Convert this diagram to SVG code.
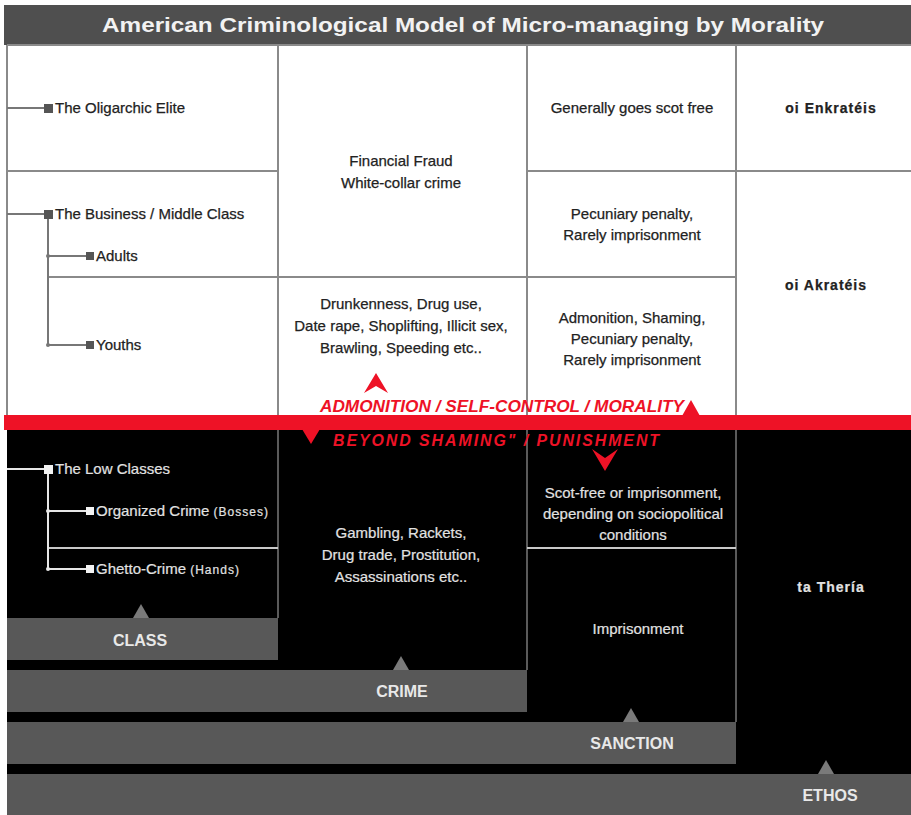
<svg xmlns="http://www.w3.org/2000/svg" width="911" height="815" viewBox="0 0 911 815">
  <defs>
    <style>
      .grid { stroke: #8a8a8a; stroke-width: 2; fill: none; }
      .gridDark { stroke: #5a5a5a; stroke-width: 2; fill: none; }
      .lightLine { stroke: #c8c8c8; stroke-width: 2; fill: none; }
      .treeTop { stroke: #777; stroke-width: 2; fill: none; }
      .treeLow { stroke: #e6e6e6; stroke-width: 2; fill: none; }
      .t { font-family: "Liberation Sans", Arial, sans-serif; font-size: 15px; }
      .dark { fill: #222; stroke: #222; stroke-width: 0.25; }
      .light { fill: #e2e2e2; stroke: #e2e2e2; stroke-width: 0.2; }
      .mid { text-anchor: middle; }
      .greek { font-family: "Liberation Sans", Arial, sans-serif; font-size: 14px; font-weight: bold; letter-spacing: 1px; text-anchor: middle; }
      .bar { fill: #585858; }
      .tri { fill: #7a7a7a; }
      .barLabel { font-family: "Liberation Sans", Arial, sans-serif; font-size: 16px; font-weight: bold; fill: #e8e8e8; text-anchor: middle; }
      .red { fill: #ee1226; }
      .redText { font-family: "Liberation Sans", Arial, sans-serif; font-size: 16px; font-weight: bold; font-style: italic; fill: #ee1226; }
      .small { font-size: 12px; letter-spacing: 1px; }
    </style>
  </defs>

  <rect width="911" height="815" fill="#ffffff"/>

  <!-- title bar -->
  <g id="title">
    <rect x="4" y="5" width="907" height="40" fill="#4f4f4f"/>
    <text x="463" y="32" text-anchor="middle" textLength="722" lengthAdjust="spacingAndGlyphs" font-family="Liberation Sans, Arial, sans-serif" font-size="20" font-weight="bold" fill="#f2f2f2">American Criminological Model of Micro-managing by Morality</text>
  </g>

  <!-- lower (black) field -->
  <rect x="7" y="430" width="904" height="385" fill="#000000"/>

  <!-- table grid -->
  <g id="grid">
    <line class="grid" x1="7" y1="45" x2="911" y2="45"/>
    <line class="grid" x1="7" y1="45" x2="7" y2="415"/>
    <line class="grid" x1="278" y1="45" x2="278" y2="415"/>
    <line class="grid" x1="527" y1="45" x2="527" y2="415"/>
    <line class="grid" x1="736" y1="45" x2="736" y2="415"/>
    <line class="grid" x1="7" y1="171" x2="278" y2="171"/>
    <line class="grid" x1="527" y1="171" x2="911" y2="171"/>
    <line class="grid" x1="48" y1="277" x2="736" y2="277"/>
    <line class="gridDark" x1="278" y1="430" x2="278" y2="618"/>
    <line class="gridDark" x1="527" y1="430" x2="527" y2="670"/>
    <line class="gridDark" x1="736" y1="430" x2="736" y2="722"/>
    <line class="lightLine" x1="48" y1="548" x2="278" y2="548"/>
    <line class="lightLine" x1="527" y1="548" x2="736" y2="548"/>
  </g>

  <!-- class hierarchy, upper part -->
  <g id="tree-upper">
    <path class="treeTop" d="M7 108 H46 M7 214 H46 M48 214 V345 M48 256 H88 M48 345 H88"/>
    <circle cx="48" cy="256" r="2" fill="#777"/>
    <circle cx="48" cy="345" r="2" fill="#777"/>
    <rect x="44" y="104" width="9" height="9" fill="#555"/>
    <rect x="44" y="210" width="9" height="9" fill="#555"/>
    <rect x="86" y="252" width="8" height="8" fill="#555"/>
    <rect x="86" y="341" width="8" height="8" fill="#555"/>
  </g>
  <g id="elite"><text class="t dark" x="55" y="113">The Oligarchic Elite</text></g>
  <g id="middle-class"><text class="t dark" x="55" y="219">The Business / Middle Class</text></g>
  <g id="adults"><text class="t dark" x="96" y="261">Adults</text></g>
  <g id="youths"><text class="t dark" x="96" y="350">Youths</text></g>

  <!-- crime column, upper -->
  <g id="fraud">
    <text class="t dark mid" x="401" y="166">Financial Fraud</text>
    <text class="t dark mid" x="401" y="188">White-collar crime</text>
  </g>
  <g id="petty">
    <text class="t dark mid" x="401" y="309">Drunkenness, Drug use,</text>
    <text class="t dark mid" x="401" y="331">Date rape, Shoplifting, Illicit sex,</text>
    <text class="t dark mid" x="401" y="353">Brawling, Speeding etc..</text>
  </g>

  <!-- sanction column, upper -->
  <g id="scot-free"><text class="t dark mid" x="632" y="113">Generally goes scot free</text></g>
  <g id="pecuniary">
    <text class="t dark mid" x="632" y="219">Pecuniary penalty,</text>
    <text class="t dark mid" x="632" y="240">Rarely imprisonment</text>
  </g>
  <g id="admonition">
    <text class="t dark mid" x="632" y="323">Admonition, Shaming,</text>
    <text class="t dark mid" x="632" y="344">Pecuniary penalty,</text>
    <text class="t dark mid" x="632" y="365">Rarely imprisonment</text>
  </g>

  <!-- ethos column, upper -->
  <g id="enkrateis"><text class="greek dark" x="831" y="113">oi Enkratéis</text></g>
  <g id="akrateis"><text class="greek dark" x="826" y="290">oi Akratéis</text></g>

  <!-- red dividing band with direction markers -->
  <g id="divide">
    <rect class="red" x="4" y="415" width="907" height="15"/>
    <polygon class="red" points="376,373 388,393 376,386 364,393"/>
    <polygon class="red" points="682,416 700,416 691,400"/>
    <polygon class="red" points="302,429 320,429 311,444"/>
    <polygon class="red" points="605,471 618,449 605,458 592,449"/>
    <text class="redText" x="320" y="412" textLength="364" lengthAdjust="spacingAndGlyphs">ADMONITION / SELF-CONTROL / MORALITY</text>
    <text class="redText" x="333" y="446" letter-spacing="2" textLength="328" lengthAdjust="spacingAndGlyphs">BEYOND SHAMING" / PUNISHMENT</text>
  </g>

  <!-- class hierarchy, lower part -->
  <g id="tree-lower">
    <path class="treeLow" d="M7 469 H46 M48 469 V570 M48 511 H88 M48 569 H88"/>
    <circle cx="48" cy="511" r="2" fill="#e6e6e6"/>
    <circle cx="48" cy="569" r="2" fill="#e6e6e6"/>
    <rect x="44" y="465" width="9" height="9" fill="#f2f2f2"/>
    <rect x="86" y="507" width="8" height="8" fill="#f2f2f2"/>
    <rect x="86" y="565" width="8" height="8" fill="#f2f2f2"/>
  </g>
  <g id="low-classes"><text class="t light" x="55" y="474">The Low Classes</text></g>
  <g id="organized"><text class="t light" x="96" y="516">Organized Crime <tspan class="small">(Bosses)</tspan></text></g>
  <g id="ghetto"><text class="t light" x="96" y="574">Ghetto-Crime <tspan class="small">(Hands)</tspan></text></g>

  <!-- crime column, lower -->
  <g id="rackets">
    <text class="t light mid" x="401" y="538">Gambling, Rackets,</text>
    <text class="t light mid" x="401" y="560">Drug trade, Prostitution,</text>
    <text class="t light mid" x="401" y="582">Assassinations etc..</text>
  </g>

  <!-- sanction column, lower -->
  <g id="sociopolitical">
    <text class="t light mid" x="633" y="498">Scot-free or imprisonment,</text>
    <text class="t light mid" x="633" y="519">depending on sociopolitical</text>
    <text class="t light mid" x="633" y="540">conditions</text>
  </g>
  <g id="imprisonment"><text class="t light mid" x="638" y="634">Imprisonment</text></g>

  <!-- ethos column, lower -->
  <g id="theria"><text class="greek light" x="831" y="592">ta Thería</text></g>

  <!-- axis bars -->
  <g id="class-bar">
    <rect class="bar" x="7" y="618" width="271" height="42"/>
    <polygon class="tri" points="133,618 149,618 141,604"/>
    <text class="barLabel" x="140" y="646">CLASS</text>
  </g>
  <g id="crime-bar">
    <rect class="bar" x="7" y="670" width="520" height="42"/>
    <polygon class="tri" points="393,670 409,670 401,656"/>
    <text class="barLabel" x="402" y="697">CRIME</text>
  </g>
  <g id="sanction-bar">
    <rect class="bar" x="7" y="722" width="729" height="42"/>
    <polygon class="tri" points="623,722 639,722 631,708"/>
    <text class="barLabel" x="632" y="749">SANCTION</text>
  </g>
  <g id="ethos-bar">
    <rect class="bar" x="7" y="774" width="904" height="41"/>
    <polygon class="tri" points="818,774 834,774 826,760"/>
    <text class="barLabel" x="830" y="801">ETHOS</text>
  </g>
</svg>
